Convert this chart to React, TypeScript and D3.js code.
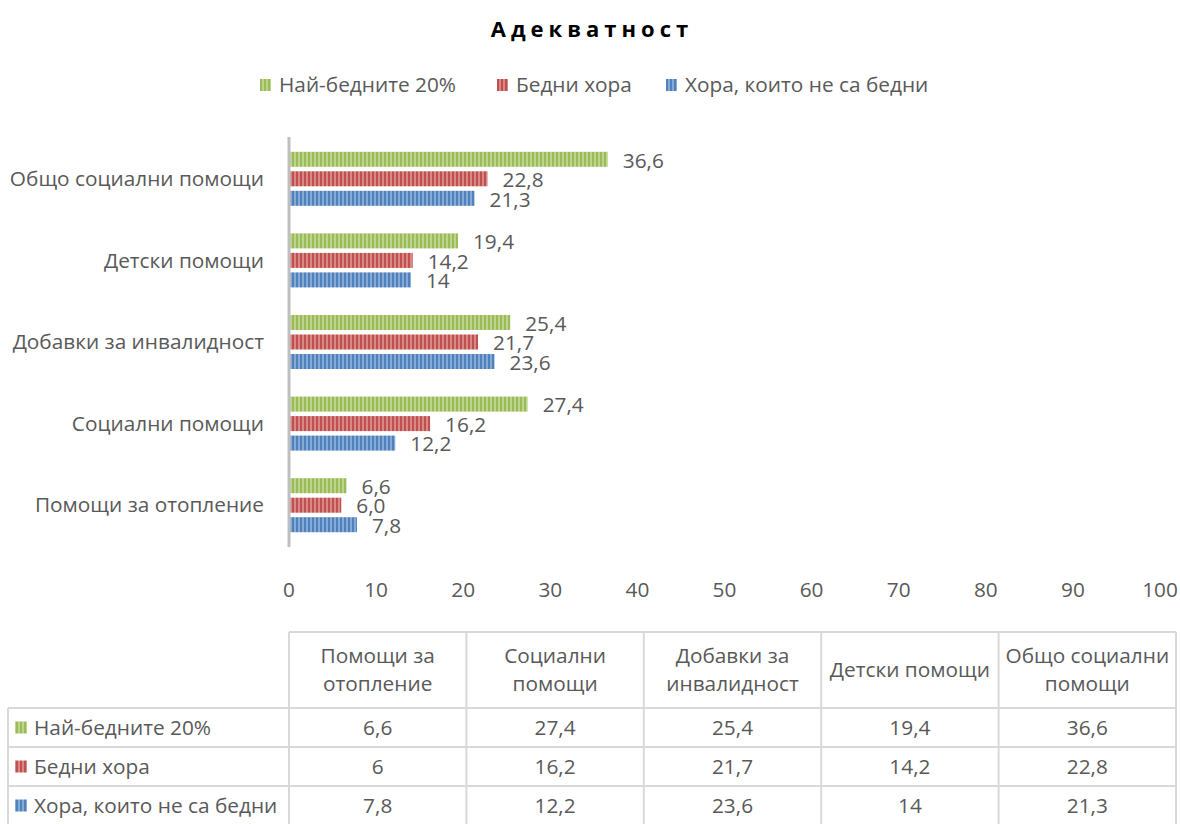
import React from 'react';
import * as d3 from 'd3';

const title = 'Адекватност';
const categories = [
  'Общо социални помощи',
  'Детски помощи',
  'Добавки за инвалидност',
  'Социални помощи',
  'Помощи за отопление',
];
// table column order (bottom to top of the chart)
const tableColumns = ['Помощи за отопление', 'Социални помощи', 'Добавки за инвалидност', 'Детски помощи', 'Общо социални помощи'];
const seriesNames = ['Най-бедните 20%', 'Бедни хора', 'Хора, които не са бедни'];
const poorest20 = [36.6, 19.4, 25.4, 27.4, 6.6];
const poor = [22.8, 14.2, 21.7, 16.2, 6.0];
const notPoor = [21.3, 14, 23.6, 12.2, 7.8];
const xTicks = [0, 10, 20, 30, 40, 50, 60, 70, 80, 90, 100];
// the chart label for this one point carries a decimal, the table does not
const labelOverrides: Record<string, string> = { 'Бедни хора|Помощи за отопление': '6,0' };

const seriesValues = [poorest20, poor, notPoor];
const colors = ['#9BBB59', '#C0504D', '#4F81BD'];
const stripes = ['#bcd48c', '#d88886', '#86a9d6'];

const font = '"Open Sans", sans-serif';
const fs = 20.8;
const textColor = '#595959';
const gridColor = '#d9d9d9';

const fmt = (v: number) => String(v).replace('.', ',');

export default function App() {
  const width = 1180;
  const height = 824;

  const x = d3.scaleLinear().domain([0, 100]).range([289, 1160]);
  const y0 = d3.scaleBand<string>().domain(categories).range([138, 546]).paddingInner(0.283).paddingOuter(0.1415);
  const y1 = d3.scaleBand<string>().domain(seriesNames).range([0, y0.bandwidth()]).paddingInner(0.23).paddingOuter(0.115);

  // table layout
  const colX = d3.scaleBand<string>().domain(tableColumns).range([289, 1176]);
  const headerTop = 632;
  const headerBottom = 708;
  const rowY = d3.scaleBand<string>().domain(seriesNames).range([headerBottom, 825]);
  const tableLeft = 8;

  const legendX = [260, 497, 666];

  return (
    <svg width={width} height={height} style={{ position: 'absolute', left: 0, top: 0, background: '#fff' }} fontFamily={font}>
      <defs>
        {colors.map((c, i) => (
          <pattern key={i} id={`stripe${i}`} width={4} height={10} patternUnits="userSpaceOnUse">
            <rect width={4} height={10} fill={c} />
            <rect x={2} width={2} height={10} fill={stripes[i]} />
          </pattern>
        ))}
      </defs>

      <text x={592} y={37} textAnchor="middle" fontSize={22} fontWeight="bold" letterSpacing={5} fill="#000">
        {title}
      </text>

      {seriesNames.map((s, i) => (
        <g key={s} transform={`translate(${legendX[i]},85)`}>
          <rect x={0} y={-6} width={11} height={12} fill={`url(#stripe${i})`} />
          <text x={19} y={0} dy="0.35em" fontSize={fs} fill={textColor}>{s}</text>
        </g>
      ))}

      {/* bars */}
      {categories.map((c, ci) => (
        <g key={c} transform={`translate(0,${y0(c)})`}>
          {seriesNames.map((s, si) => {
            const v = seriesValues[si][ci];
            const yy = y1(s) as number;
            const label = labelOverrides[`${s}|${c}`] ?? fmt(v);
            return (
              <g key={s}>
                <rect x={x(0)} y={yy} width={x(v) - x(0)} height={y1.bandwidth()} fill={`url(#stripe${si})`} />
                <text x={x(v) + 15} y={yy + y1.bandwidth() / 2 + 1} dy="0.35em" fontSize={fs} fill={textColor}>
                  {label}
                </text>
              </g>
            );
          })}
        </g>
      ))}

      {/* category labels */}
      {categories.map((c) => (
        <text key={c} x={264} y={(y0(c) as number) + y0.bandwidth() / 2} dy="0.35em" textAnchor="end" fontSize={fs} fill={textColor}>
          {c}
        </text>
      ))}

      <line x1={x(0)} x2={x(0)} y1={137} y2={547} stroke="#bfbfbf" strokeWidth={3} />

      {xTicks.map((t) => (
        <text key={t} x={x(t)} y={590} dy="0.35em" textAnchor="middle" fontSize={fs} fill={textColor}>
          {t}
        </text>
      ))}

      {/* data table */}
      <g stroke={gridColor} strokeWidth={2} fill="none">
        <line x1={289} x2={1176} y1={headerTop} y2={headerTop} />
        <line x1={tableLeft} x2={1176} y1={headerBottom} y2={headerBottom} />
        {seriesNames.map((s) => (
          <line key={s} x1={tableLeft} x2={1176} y1={(rowY(s) as number) + rowY.bandwidth()} y2={(rowY(s) as number) + rowY.bandwidth()} />
        ))}
        <line x1={tableLeft} x2={tableLeft} y1={headerBottom} y2={825} />
        {tableColumns.map((c) => (
          <line key={c} x1={colX(c)} x2={colX(c)} y1={headerTop} y2={825} />
        ))}
        <line x1={1176} x2={1176} y1={headerTop} y2={825} />
      </g>

      {tableColumns.map((c) => {
        const cx = (colX(c) as number) + colX.bandwidth() / 2;
        const words = c.split(' ');
        const lines = c === 'Детски помощи' ? [c] : [words.slice(0, words.length - 1).join(' '), words[words.length - 1]];
        const mid = (headerTop + headerBottom) / 2;
        return (
          <text key={c} x={cx} textAnchor="middle" fontSize={fs} fill={textColor}>
            {lines.map((l, li) => (
              <tspan key={li} x={cx} y={mid + (li - (lines.length - 1) / 2) * 28} dy="0.35em">{l}</tspan>
            ))}
          </text>
        );
      })}

      {seriesNames.map((s, si) => {
        const cy = (rowY(s) as number) + rowY.bandwidth() / 2;
        return (
          <g key={s}>
            <rect x={15} y={cy - 6} width={12} height={12} fill={`url(#stripe${si})`} />
            <text x={34} y={cy} dy="0.35em" fontSize={fs} fill={textColor}>{s}</text>
            {tableColumns.map((c) => {
              const ci = categories.indexOf(c);
              return (
                <text key={c} x={(colX(c) as number) + colX.bandwidth() / 2} y={cy} dy="0.35em" textAnchor="middle" fontSize={fs} fill={textColor}>
                  {fmt(seriesValues[si][ci])}
                </text>
              );
            })}
          </g>
        );
      })}
    </svg>
  );
}
